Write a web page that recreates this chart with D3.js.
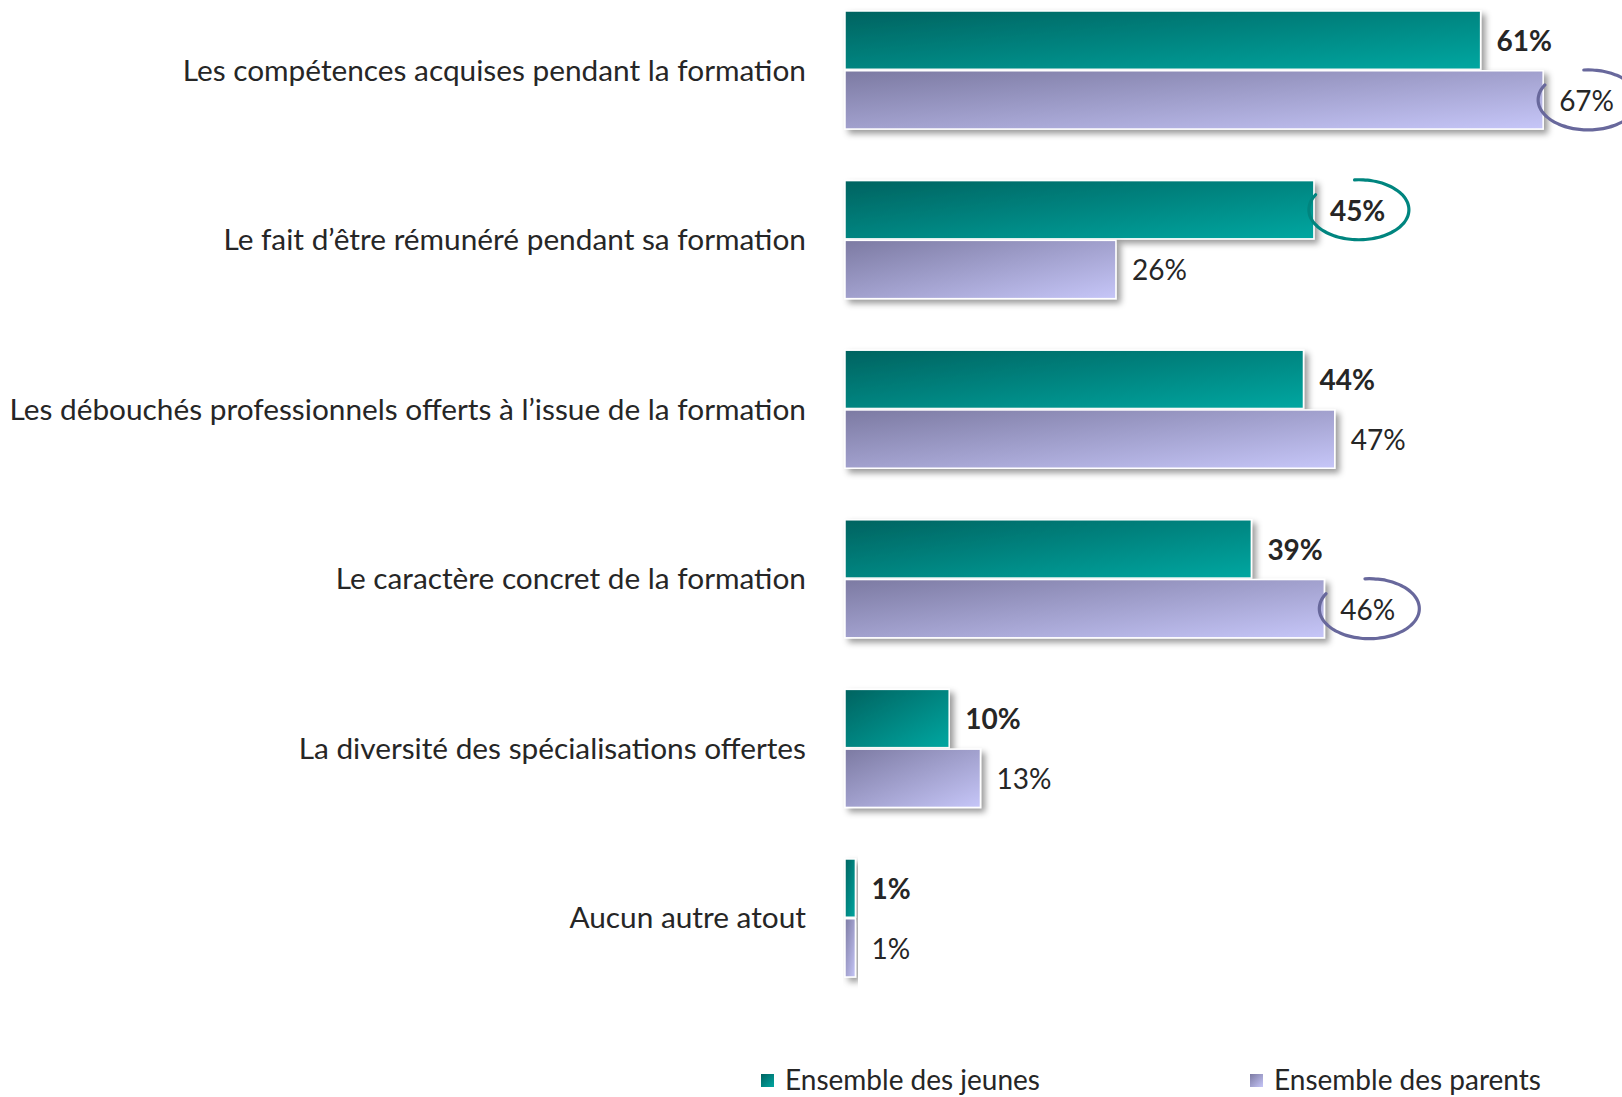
<!DOCTYPE html>
<html>
<head>
<meta charset="utf-8">
<script src="https://cdn.jsdelivr.net/npm/d3@7"></script>
<style>
  html, body { margin: 0; padding: 0; background: #fff; overflow: hidden; }
  svg { display: block; font-family: Lato, "Open Sans", sans-serif; }
</style>
</head>
<body>
<div id="chart"></div>
<script>
/* atouts de la formation : jeunes vs parents */
const categories = [
  'Les compétences acquises pendant la formation',
  'Le fait d’être rémunéré pendant sa formation',
  'Les débouchés professionnels offerts à l’issue de la formation',
  'Le caractère concret de la formation',
  'La diversité des spécialisations offertes',
  'Aucun autre atout'
];
const seriesNames = ['Ensemble des jeunes', 'Ensemble des parents'];
const jeunes = [61, 45, 44, 39, 10, 1];
const parents = [67, 26, 47, 46, 13, 1];
// libellés entourés (catégorie, série)
const highlights = [
  { cat: 0, series: 1 },
  { cat: 1, series: 0 },
  { cat: 3, series: 1 }
];

const width = 1622, height = 1097;
const ringColors = ['#00857f', '#68689c'];

const svg = d3.select('#chart').append('svg')
  .attr('width', width)
  .attr('height', height);

const defs = svg.append('defs');
const grads = [
  ['gradJeunes', '#006360', '#00a7a1'],
  ['gradParents', '#7c7aa2', '#c6c6f8']
];
grads.forEach(([id, c0, c1]) => {
  const g = defs.append('linearGradient').attr('id', id)
    .attr('x1', 0).attr('y1', 0).attr('x2', 1).attr('y2', 1);
  g.append('stop').attr('offset', '0%').attr('stop-color', c0);
  g.append('stop').attr('offset', '100%').attr('stop-color', c1);
});
const shadow = defs.append('filter').attr('id', 'shadow')
  .attr('x', '-10%').attr('y', '-20%').attr('width', '130%').attr('height', '150%');
shadow.append('feDropShadow')
  .attr('dx', 4).attr('dy', 4).attr('stdDeviation', 3)
  .attr('flood-color', '#000').attr('flood-opacity', 0.4);

const x = d3.scaleLinear().domain([0, 100]).range([845, 1887]);
const y = d3.scaleBand().domain(categories).range([11, 977])
  .paddingInner(0.304).paddingOuter(0);
const ySub = d3.scaleBand().domain([0, 1]).range([0, y.bandwidth()]).paddingInner(0.025);

const rows = categories.map((c, i) => ({
  cat: c,
  values: [jeunes[i], parents[i]]
}));

// libellés des catégories
svg.append('g')
  .selectAll('text')
  .data(rows)
  .join('text')
  .attr('x', 806)
  .attr('y', d => y(d.cat) + y.bandwidth() / 2 - 1)
  .attr('text-anchor', 'end')
  .attr('dominant-baseline', 'central')
  .attr('font-size', 29.8)
  .attr('fill', '#262626')
  .text(d => d.cat);

const group = svg.append('g')
  .selectAll('g')
  .data(rows)
  .join('g')
  .attr('transform', d => `translate(0,${y(d.cat)})`);

group.selectAll('rect')
  .data(d => d.values.map((v, s) => ({ v, s })))
  .join('rect')
  .attr('x', x(0))
  .attr('y', d => ySub(d.s))
  .attr('width', d => x(d.v) - x(0))
  .attr('height', ySub.bandwidth())
  .attr('fill', d => d.s === 0 ? 'url(#gradJeunes)' : 'url(#gradParents)')
  .attr('stroke', '#fff')
  .attr('stroke-width', 1.5)
  .attr('filter', 'url(#shadow)');

group.selectAll('text')
  .data(d => d.values.map((v, s) => ({ v, s })))
  .join('text')
  .attr('x', d => x(d.v) + 16)
  .attr('y', d => ySub(d.s) + ySub.bandwidth() / 2)
  .attr('dominant-baseline', 'central')
  .attr('font-size', 28)
  .attr('font-weight', d => d.s === 0 ? 700 : 400)
  .attr('fill', '#262626')
  .text(d => d.v + '%');

// ellipses ouvertes autour des valeurs mises en avant
const ring = d3.line().curve(d3.curveCardinal);
const angles = d3.range(-95, 211, 5).map(a => a * Math.PI / 180);
svg.append('g')
  .selectAll('path')
  .data(highlights)
  .join('path')
  .attr('fill', 'none')
  .attr('stroke', d => ringColors[d.series])
  .attr('stroke-width', 3.2)
  .attr('stroke-linecap', 'round')
  .attr('d', d => {
    const v = d.series === 0 ? jeunes[d.cat] : parents[d.cat];
    const cx = x(v) + 16 + 29;
    const cy = y(categories[d.cat]) + ySub(d.series) + ySub.bandwidth() / 2;
    const rx = 50, ry = 30;
    return ring(angles.map(a => [cx + rx * Math.cos(a), cy + ry * Math.sin(a)]));
  });

// légende
const legend = svg.append('g')
  .selectAll('g')
  .data(seriesNames)
  .join('g')
  .attr('transform', (d, i) => `translate(${[761, 1250][i]},1079)`);
legend.append('rect')
  .attr('x', 0).attr('y', -5)
  .attr('width', 13).attr('height', 13)
  .attr('fill', (d, i) => i === 0 ? 'url(#gradJeunes)' : 'url(#gradParents)');
legend.append('text')
  .attr('x', 24)
  .attr('y', 0)
  .attr('dominant-baseline', 'central')
  .attr('font-size', 28)
  .attr('fill', '#262626')
  .text(d => d);
</script>
</body>
</html>
